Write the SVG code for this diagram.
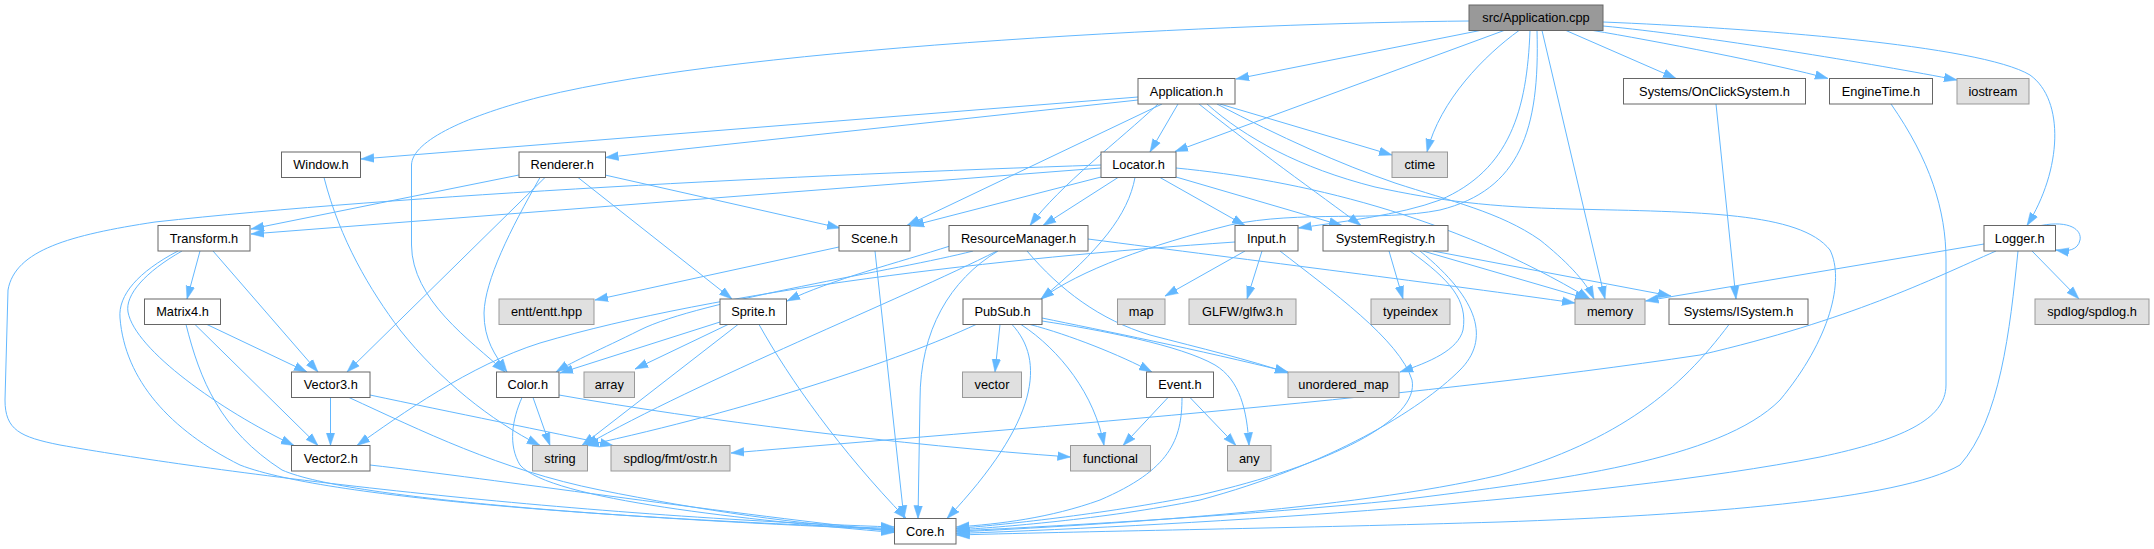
<svg xmlns="http://www.w3.org/2000/svg" width="2154" height="549" viewBox="0 0 2154 549">
<style>
rect{stroke-width:1}
.n rect{fill:#ffffff;stroke:#666666}
.g rect{fill:#e0e0e0;stroke:#999999}
.r rect{fill:#999999;stroke:#666666}
text{font-family:"Liberation Sans",Arial,Helvetica,sans-serif;font-size:12.8px;text-anchor:middle;fill:#000000}
#edges path{fill:none;stroke:#63b8ff;stroke-width:1;marker-end:url(#a)}
</style>
<defs>
<marker id="a" markerWidth="14" markerHeight="10" refX="13" refY="5" orient="auto" markerUnits="userSpaceOnUse">
<path d="M0,0.7 L13,5 L0,9.3 Z" fill="#63b8ff" stroke="#63b8ff" stroke-width="0.5"/>
</marker>
</defs>
<rect width="2154" height="549" fill="#ffffff"/>
<g id="edges">
<path d="M1480,30.5 L1236,79"/>
<path d="M1504,30.5 L1175,151.5"/>
<path d="M1519,30.5 C1485,55 1440,100 1427,152"/>
<path d="M1530,30.5 C1527,110 1510,170 1440,200 C1400,215 1340,222 1298.5,228"/>
<path d="M1537,30.5 C1540,130 1520,190 1440,210 C1380,222 1300,210 1230,225 C1150,245 1080,270 1041,299"/>
<path d="M1542,30.5 L1605,299"/>
<path d="M1566,30.5 L1676,78.5"/>
<path d="M1593,30.5 C1650,40 1780,65 1828,78.5"/>
<path d="M1603,26 C1700,35 1880,65 1957,80"/>
<path d="M1603,22 C1750,28 1980,45 2030,75 C2065,100 2062,170 2027,225.5"/>
<path d="M1469,21 C1250,23 750,45 540,97 C470,115 412,140 411.5,165 L411.5,245 C412,300 470,340 505,372"/>
<path d="M1138,97 L361,159"/>
<path d="M1138,100 L605.5,157.5"/>
<path d="M1162,104 L907,225.5"/>
<path d="M1178,104 L1150,152"/>
<path d="M1158,104 C1120,140 1060,185 1030,225.5"/>
<path d="M1220,104 L1392,155"/>
<path d="M1199,104 C1250,145 1320,195 1361,225.5"/>
<path d="M1217,104 C1280,137 1340,164 1395,183 C1450,201 1500,212 1540,240 C1565,260 1585,280 1594,299"/>
<path d="M1207,104 C1245,138 1300,168 1375,187 C1440,201 1490,207 1570,209 C1700,212 1800,212 1830,250 C1845,280 1830,340 1780,400 C1720,460 1560,480 1400,500 C1250,515 1080,525 956.5,531"/>
<path d="M1101,168 L251,234"/>
<path d="M1101,165 C800,175 400,195 155,222 C70,235 15,250 8,290 L5,400 C5,430 20,437 60,445 C200,470 540,515 894,527"/>
<path d="M1101,177 L911,226"/>
<path d="M1118,177.5 L1043,225.5"/>
<path d="M1135,177.5 C1128,215 1100,250 1041,299"/>
<path d="M1160,177.5 L1245,225.5"/>
<path d="M1176,177 L1342,225.5"/>
<path d="M1176,168 C1300,180 1450,215 1590,299"/>
<path d="M950,246 C900,262 830,280 787,301"/>
<path d="M973,251 C900,270 700,300 640,330 C600,350 575,360 556,372"/>
<path d="M997,251 C900,300 700,380 585,445.5"/>
<path d="M998,251 C950,280 920,330 920,400 L918,518.5"/>
<path d="M1027,251 C1060,290 1100,320 1150,335 C1200,348 1250,360 1288,373"/>
<path d="M1088,239 C1250,260 1450,285 1575,303"/>
<path d="M839,247 L595,300"/>
<path d="M875,251 L904,518.5"/>
<path d="M519,175 L251,229"/>
<path d="M605,175 L840,228"/>
<path d="M545,177.5 L347,372"/>
<path d="M540,177.5 C510,230 485,280 484,313 C484,340 495,355 507,372"/>
<path d="M578,177.5 L732,299"/>
<path d="M324,177.5 C340,240 370,290 400,330 C440,380 490,420 540,445.5"/>
<path d="M200,251 L187,299"/>
<path d="M213,251 L318,372"/>
<path d="M182,251 C145,272 125,295 128,312 C135,350 220,410 294,445.5"/>
<path d="M178,251 C138,272 118,295 120,318 C125,380 170,430 240,465 C330,500 650,520 894,528.5"/>
<path d="M207,324.5 L307,372"/>
<path d="M195,324.5 L318,445.5"/>
<path d="M186,324.5 C200,380 220,430 282,470 C350,500 650,520 894,529.5"/>
<path d="M330.5,397.5 L330.5,445.5"/>
<path d="M370,395 C450,412 550,432 613,445.5"/>
<path d="M349,397.5 C420,430 500,470 600,490 C700,510 800,525 894,530.5"/>
<path d="M370,465 C500,480 700,510 894,531.5"/>
<path d="M533,397.5 L550,445.5"/>
<path d="M522,397.5 C512,420 508,445 520,465 C550,500 750,520 894,532.5"/>
<path d="M559,395 C700,420 900,445 1070.5,457"/>
<path d="M720,322 L560,373"/>
<path d="M728,324.5 L635,369"/>
<path d="M738,324.5 L582,445.5"/>
<path d="M759,324.5 C790,380 840,450 906,518.5"/>
<path d="M976,324.5 C900,360 750,410 586,445.5"/>
<path d="M1000,324.5 L995,372"/>
<path d="M1012,324.5 C1045,360 1040,420 947,518.5"/>
<path d="M1021,324.5 C1060,350 1095,395 1104,445.5"/>
<path d="M1030,324.5 C1070,335 1120,355 1152,372"/>
<path d="M1042,321 C1100,330 1180,345 1215,365 C1240,380 1247,410 1249,445.5"/>
<path d="M1042,318 C1100,330 1200,350 1288,372"/>
<path d="M1168,397.5 L1123,445.5"/>
<path d="M1190,397.5 L1236,445.5"/>
<path d="M1182,397.5 C1182,440 1170,470 1100,500 C1050,518 1000,524 956.5,527"/>
<path d="M1245,251 L1165,296"/>
<path d="M1262,251 L1247,299"/>
<path d="M1280,251 C1330,290 1400,340 1412,380 C1420,420 1330,465 1200,495 C1100,515 1000,525 956.5,528.5"/>
<path d="M1235,242 C1000,258 720,290 540,343 C470,365 400,415 357,445.5"/>
<path d="M1389,251 L1403,299"/>
<path d="M1410,251 C1450,280 1468,300 1463,330 C1458,350 1430,362 1400,372"/>
<path d="M1420,251 C1480,300 1490,340 1460,370 C1420,410 1330,465 1200,500 C1100,520 1000,527 956.5,530"/>
<path d="M1423,251 L1588,299"/>
<path d="M1433,251 L1671,296"/>
<path d="M1729,324.5 C1680,390 1620,440 1500,475 C1350,510 1100,525 956.5,532"/>
<path d="M1716,104 L1736,299"/>
<path d="M1891,104 C1930,160 1946,210 1946,260 L1946,385 C1946,420 1900,440 1820,457 C1600,500 1200,525 956.5,533.5"/>
<path d="M2041,225.5 C2070,220 2082,230 2080,240 C2078,250 2068,252 2056,250"/>
<path d="M1984,244 L1645.5,301"/>
<path d="M2032,251 L2079,299"/>
<path d="M1996,251 C1930,280 1850,320 1700,355 C1400,400 1000,430 731,453"/>
<path d="M2018,251 C2010,330 2000,420 1960,465 C1900,500 1700,515 1500,522 C1300,528 1100,531 956.5,535"/>
</g>
<g id="node-root" class="r"><rect x="1469" y="5" width="134" height="25.5"/><text x="1536" y="22">src/Application.cpp</text></g>
<g id="node-application" class="n"><rect x="1138" y="78.5" width="97" height="25.5"/><text x="1186.5" y="95.5">Application.h</text></g>
<g id="node-onclick" class="n"><rect x="1623.5" y="78.5" width="182" height="25.5"/><text x="1714.5" y="95.5">Systems/OnClickSystem.h</text></g>
<g id="node-enginetime" class="n"><rect x="1829.5" y="78.5" width="103" height="25.5"/><text x="1881" y="95.5">EngineTime.h</text></g>
<g id="node-iostream" class="g"><rect x="1957" y="78.5" width="72" height="25.5"/><text x="1993" y="95.5">iostream</text></g>
<g id="node-window" class="n"><rect x="281.5" y="152" width="79" height="25.5"/><text x="321" y="169">Window.h</text></g>
<g id="node-renderer" class="n"><rect x="519" y="152" width="86.5" height="25.5"/><text x="562.25" y="169">Renderer.h</text></g>
<g id="node-locator" class="n"><rect x="1101" y="152" width="75" height="25.5"/><text x="1138.5" y="169">Locator.h</text></g>
<g id="node-ctime" class="g"><rect x="1392" y="152" width="55.5" height="25.5"/><text x="1419.75" y="169">ctime</text></g>
<g id="node-transform" class="n"><rect x="158" y="225.5" width="92" height="25.5"/><text x="204" y="242.5">Transform.h</text></g>
<g id="node-scene" class="n"><rect x="839" y="225.5" width="71" height="25.5"/><text x="874.5" y="242.5">Scene.h</text></g>
<g id="node-resourcemanager" class="n"><rect x="949" y="225.5" width="139" height="25.5"/><text x="1018.5" y="242.5">ResourceManager.h</text></g>
<g id="node-input" class="n"><rect x="1235" y="225.5" width="63" height="25.5"/><text x="1266.5" y="242.5">Input.h</text></g>
<g id="node-systemregistry" class="n"><rect x="1323" y="225.5" width="125" height="25.5"/><text x="1385.5" y="242.5">SystemRegistry.h</text></g>
<g id="node-logger" class="n"><rect x="1984" y="225.5" width="71.5" height="25.5"/><text x="2019.75" y="242.5">Logger.h</text></g>
<g id="node-matrix4" class="n"><rect x="144.5" y="299" width="76" height="25.5"/><text x="182.5" y="316">Matrix4.h</text></g>
<g id="node-entt" class="g"><rect x="499" y="299" width="95" height="25.5"/><text x="546.5" y="316">entt/entt.hpp</text></g>
<g id="node-sprite" class="n"><rect x="720" y="299" width="66.5" height="25.5"/><text x="753.25" y="316">Sprite.h</text></g>
<g id="node-pubsub" class="n"><rect x="963" y="299" width="79" height="25.5"/><text x="1002.5" y="316">PubSub.h</text></g>
<g id="node-map" class="g"><rect x="1117.5" y="299" width="47.5" height="25.5"/><text x="1141.25" y="316">map</text></g>
<g id="node-glfw" class="g"><rect x="1189" y="299" width="107" height="25.5"/><text x="1242.5" y="316">GLFW/glfw3.h</text></g>
<g id="node-typeindex" class="g"><rect x="1371" y="299" width="79" height="25.5"/><text x="1410.5" y="316">typeindex</text></g>
<g id="node-memory" class="g"><rect x="1575" y="299" width="70" height="25.5"/><text x="1610" y="316">memory</text></g>
<g id="node-isystem" class="n"><rect x="1669" y="299" width="139" height="25.5"/><text x="1738.5" y="316">Systems/ISystem.h</text></g>
<g id="node-spdlog" class="g"><rect x="2035" y="299" width="114" height="25.5"/><text x="2092" y="316">spdlog/spdlog.h</text></g>
<g id="node-vector3" class="n"><rect x="291.5" y="372" width="78.5" height="25.5"/><text x="330.75" y="389">Vector3.h</text></g>
<g id="node-color" class="n"><rect x="496.5" y="372" width="62.5" height="25.5"/><text x="527.75" y="389">Color.h</text></g>
<g id="node-array" class="g"><rect x="584" y="372" width="50.5" height="25.5"/><text x="609.25" y="389">array</text></g>
<g id="node-vector" class="g"><rect x="962.5" y="372" width="59" height="25.5"/><text x="992" y="389">vector</text></g>
<g id="node-event" class="n"><rect x="1146.5" y="372" width="67" height="25.5"/><text x="1180" y="389">Event.h</text></g>
<g id="node-unorderedmap" class="g"><rect x="1288" y="372" width="111" height="25.5"/><text x="1343.5" y="389">unordered_map</text></g>
<g id="node-vector2" class="n"><rect x="291.5" y="445.5" width="78.5" height="25.5"/><text x="330.75" y="462.5">Vector2.h</text></g>
<g id="node-string" class="g"><rect x="532.5" y="445.5" width="55" height="25.5"/><text x="560" y="462.5">string</text></g>
<g id="node-ostr" class="g"><rect x="611" y="445.5" width="119" height="25.5"/><text x="670.5" y="462.5">spdlog/fmt/ostr.h</text></g>
<g id="node-functional" class="g"><rect x="1070.5" y="445.5" width="80" height="25.5"/><text x="1110.5" y="462.5">functional</text></g>
<g id="node-any" class="g"><rect x="1227.5" y="445.5" width="43.5" height="25.5"/><text x="1249.25" y="462.5">any</text></g>
<g id="node-core" class="n"><rect x="894.5" y="518.5" width="61.5" height="25.5"/><text x="925.25" y="535.5">Core.h</text></g>
</svg>
